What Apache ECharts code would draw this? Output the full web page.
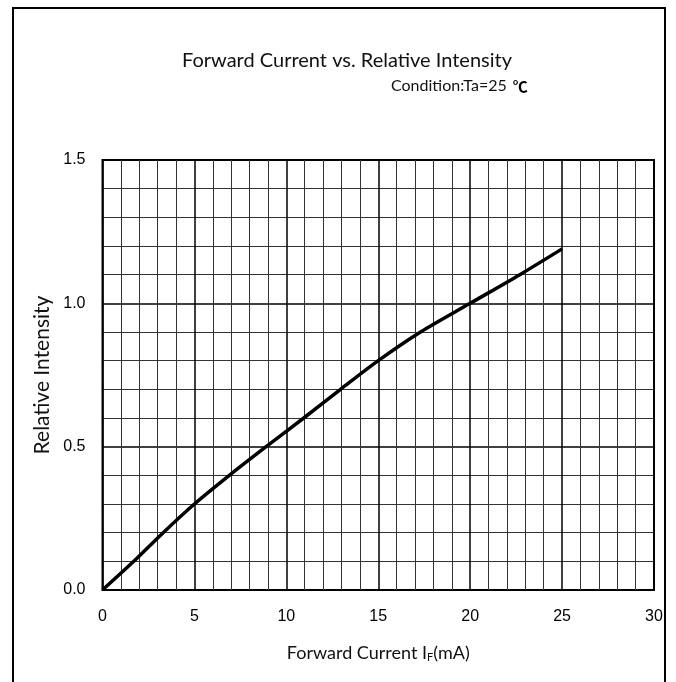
<!DOCTYPE html>
<html>
<head>
<meta charset="utf-8">
<script src="https://cdn.jsdelivr.net/npm/echarts@6/dist/echarts.min.js"></script>
<style>
html,body{margin:0;padding:0;background:#fff;}
#main{width:676px;height:682px;}
</style>
</head>
<body>
<div id="main"></div>
<script>
// Data
const currentMA = [0, 1.7, 3.3, 5, 6.9, 8.9, 10.95, 12.95, 15, 17.3, 20, 22.7, 25];
const relIntensity = [0, 0.1, 0.2, 0.3, 0.4, 0.5, 0.6, 0.7, 0.8, 0.9, 1.0, 1.1, 1.19];
const xTicks = [0, 5, 10, 15, 20, 25, 30];
const yTicks = ['0.0', '0.5', '1.0', '1.5'];

const chart = echarts.init(document.getElementById('main'), null, {renderer: 'canvas'});
const seriesData = currentMA.map((x, i) => [x, relIntensity[i]]);
const tickFont = "'Liberation Sans', Arial, sans-serif";

chart.setOption({
  animation: false,
  backgroundColor: '#fff',
  graphic: [{
    type: 'rect',
    shape: {x: 13, y: 8, width: 652, height: 690},
    style: {fill: 'none', stroke: '#000', lineWidth: 2},
    silent: true
  }],
  title: [{
    text: 'Forward Current vs. Relative Intensity',
    left: 342, top: 46, textAlign: 'center',
    textStyle: {fontFamily: 'Lato', fontWeight: 'normal', fontSize: 20, color: '#111'}
  }, {
    text: 'Condition:Ta=25 {c|℃}',
    left: 386, top: 72,
    textStyle: {fontFamily: 'Lato', fontWeight: 'normal', fontSize: 16, lineHeight: 18, color: '#111',
      rich: {c: {fontFamily: 'Noto Sans CJK JP', fontWeight: 'bold', fontSize: 15, lineHeight: 18, color: '#000', padding: [0, 0, 0, 2]}}}
  }],
  grid: {left: 102.5, right: 22, top: 160, bottom: 92, show: true, borderColor: '#000', borderWidth: 2, backgroundColor: 'transparent'},
  xAxis: {
    type: 'value', min: 0, max: 30, interval: 5,
    axisLine: {show: false}, axisTick: {show: false},
    axisLabel: {margin: 19, fontFamily: tickFont, fontSize: 16, color: '#000',
      formatter: v => xTicks.includes(v) ? String(v) : ''},
    splitLine: {show: true, lineStyle: {color: '#000', width: 1.5}},
    minorTick: {show: false, splitNumber: 5},
    minorSplitLine: {show: true, lineStyle: {color: '#333', width: 1}},
    name: 'Forward Current I{sub|F}(mA)',
    nameLocation: 'middle', nameGap: 54,
    nameTextStyle: {fontFamily: 'Lato', fontSize: 18, color: '#111',
      rich: {sub: {fontFamily: 'Lato', fontSize: 11, color: '#111', padding: [8, 0, 0, 0]}}}
  },
  yAxis: {
    type: 'value', min: 0, max: 1.5, interval: 0.5,
    axisLine: {show: false}, axisTick: {show: false},
    axisLabel: {margin: 17, fontFamily: tickFont, fontSize: 16, color: '#000',
      formatter: v => yTicks[Math.round(v / 0.5)]},
    splitLine: {show: true, lineStyle: {color: '#000', width: 1.5}},
    minorTick: {show: false, splitNumber: 5},
    minorSplitLine: {show: true, lineStyle: {color: '#333', width: 1}},
    name: 'Relative Intensity',
    nameLocation: 'middle', nameGap: 50, nameRotate: 90,
    nameTextStyle: {fontFamily: 'Lato', fontSize: 21, color: '#111'}
  },
  series: [{
    type: 'line',
    data: seriesData,
    smooth: 0.3,
    showSymbol: false,
    lineStyle: {color: '#000', width: 3.5},
    z: 5
  }]
});
</script>
</body>
</html>
